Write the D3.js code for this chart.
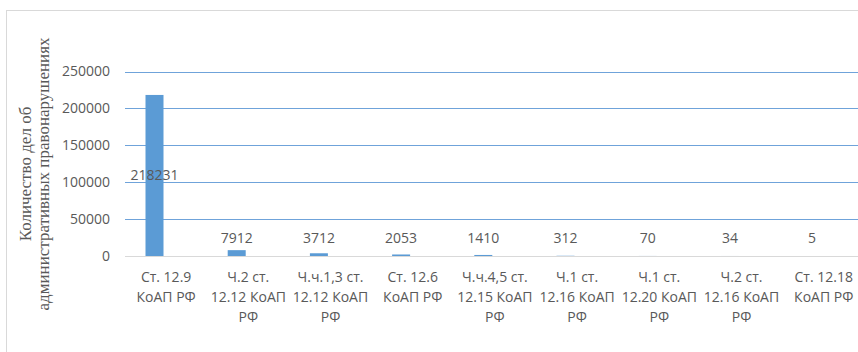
<!DOCTYPE html>
<html>
<head>
<meta charset="utf-8">
<script src="https://cdn.jsdelivr.net/npm/d3@7"></script>
<style>
html,body{margin:0;padding:0;background:#fff;}
svg{display:block;}
</style>
</head>
<body>
<svg id="chart" width="858" height="352"></svg>
<script>
const categories = [
  ["Ст. 12.9", "КоАП РФ"],
  ["Ч.2 ст.", "12.12 КоАП", "РФ"],
  ["Ч.ч.1,3 ст.", "12.12 КоАП", "РФ"],
  ["Ст. 12.6", "КоАП РФ"],
  ["Ч.ч.4,5 ст.", "12.15 КоАП", "РФ"],
  ["Ч.1 ст.", "12.16 КоАП", "РФ"],
  ["Ч.1 ст.", "12.20 КоАП", "РФ"],
  ["Ч.2 ст.", "12.16 КоАП", "РФ"],
  ["Ст. 12.18", "КоАП РФ"]
];
const values = [218231, 7912, 3712, 2053, 1410, 312, 70, 34, 5];
const yTicks = [0, 50000, 100000, 150000, 200000, 250000];
const yTitle = ["Количество дел об", "административных правонарушениях"];

const svg = d3.select("#chart");
const font = "'Open Sans', sans-serif";
const textColor = "#595959";

// outer frame
svg.append("rect").attr("x", 6.5).attr("y", 10.5).attr("width", 900).attr("height", 400)
  .attr("fill", "none").attr("stroke", "#d9d9d9").attr("stroke-width", 1);

const left = 125, band = 82.2;
const ids = categories.map((d, i) => i);
const x = d3.scaleBand().domain(ids).range([left, left + band * ids.length]).padding(0);
const y = d3.scaleLinear().domain([0, 250000]).range([256, 71.5]);

// gridlines
svg.append("g").selectAll("line").data(yTicks.filter(t => t > 0)).join("line")
  .attr("x1", left).attr("x2", 858)
  .attr("y1", d => Math.round(y(d)) + 0.5).attr("y2", d => Math.round(y(d)) + 0.5)
  .attr("stroke", "#6fa3da").attr("stroke-width", 1.2);

// y axis labels
const yAxis = d3.axisLeft(y).tickValues(yTicks).tickSize(0).tickPadding(0).tickFormat(d3.format("d"));
const ya = svg.append("g").attr("transform", "translate(110,0)").call(yAxis);
ya.select(".domain").remove();
ya.selectAll("text").attr("font-family", font).attr("font-size", 14).attr("fill", textColor);

// bars
const barW = 18, barOffset = -11.6;
svg.append("g").selectAll("rect").data(values).join("rect")
  .attr("x", (d, i) => x(i) + x.bandwidth() / 2 + barOffset - barW / 2)
  .attr("width", barW)
  .attr("y", d => y(d))
  .attr("height", d => y(0) - y(d))
  .attr("fill", "#5b9bd5");

// baseline
svg.append("line").attr("x1", left).attr("x2", 858).attr("y1", 256.5).attr("y2", 256.5)
  .attr("stroke", "#d9d9d9").attr("stroke-width", 1);

// value labels
svg.append("g").selectAll("text").data(values).join("text")
  .attr("x", (d, i) => x(i) + x.bandwidth() / 2 + barOffset)
  .attr("y", d => (y(0) - y(d) > 40 ? (y(d) + y(0)) / 2 : y(0) - 18))
  .attr("dy", "0.35em")
  .attr("text-anchor", "middle")
  .attr("font-family", font).attr("font-size", 14).attr("fill", textColor)
  .text(d => d);

// category labels
const xAxis = d3.axisBottom(x).tickSize(0).tickFormat("");
const xa = svg.append("g").attr("transform", "translate(0,256)").call(xAxis);
xa.select(".domain").remove();
xa.selectAll(".tick").each(function(d) {
  const t = d3.select(this).append("text")
    .attr("text-anchor", "middle")
    .attr("font-family", font).attr("font-size", 14).attr("fill", textColor);
  categories[d].forEach((line, j) => {
    t.append("tspan").attr("x", 0).attr("y", 21 + j * 20).attr("dy", "0.35em").text(line);
  });
});

// y title
const yt = svg.append("text")
  .attr("transform", "translate(34,174) rotate(-90)")
  .attr("text-anchor", "middle")
  .attr("font-family", "'Liberation Serif', 'Times New Roman', serif")
  .attr("font-size", 17).attr("fill", textColor);
yTitle.forEach((line, j) => {
  yt.append("tspan").attr("x", 0).attr("y", (j - 0.5) * 18).attr("dy", "0.35em").text(line);
});
</script>
</body>
</html>
